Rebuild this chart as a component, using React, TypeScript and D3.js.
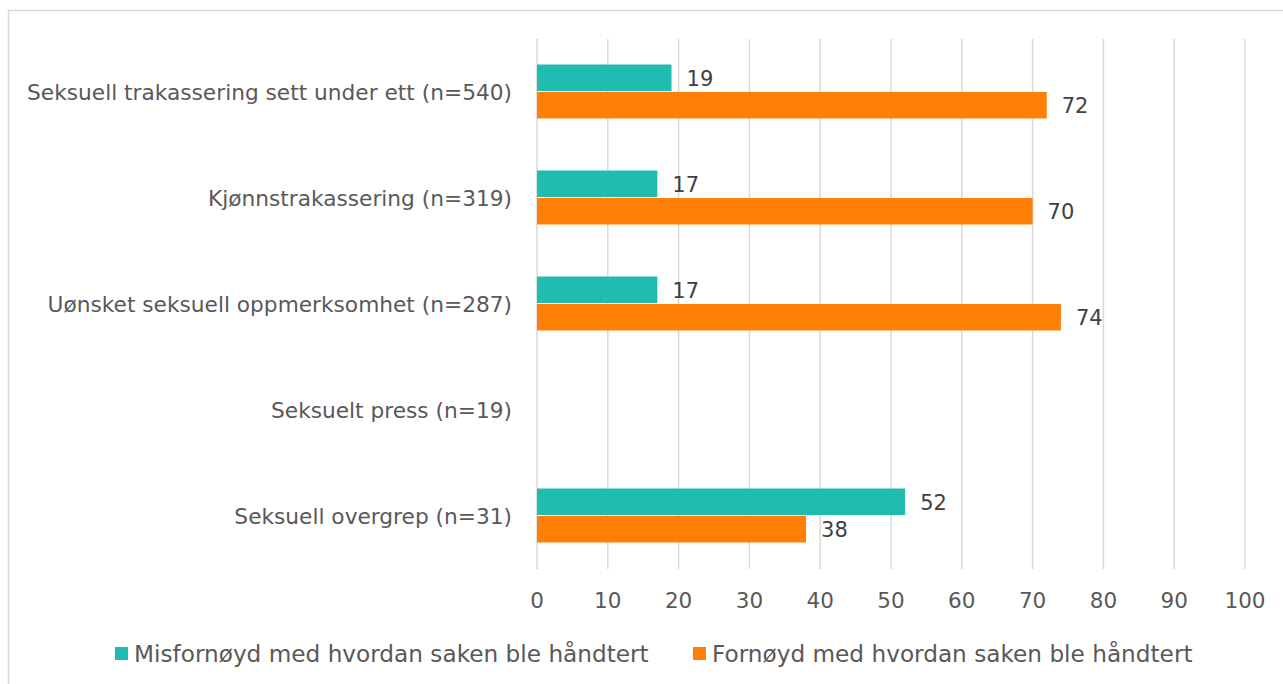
import React from "react";
import * as d3 from "d3";

const categories = [
  "Seksuell trakassering sett under ett (n=540)",
  "Kjønnstrakassering (n=319)",
  "Uønsket seksuell oppmerksomhet (n=287)",
  "Seksuelt press (n=19)",
  "Seksuell overgrep (n=31)",
];
const misfornoyd = [19, 17, 17, null, 52];
const fornoyd = [72, 70, 74, null, 38];
const seriesNames = [
  "Misfornøyd med hvordan saken ble håndtert",
  "Fornøyd med hvordan saken ble håndtert",
];
const seriesColors = ["#20BCAF", "#FF7F07"];
const xTicks = [0, 10, 20, 30, 40, 50, 60, 70, 80, 90, 100];

const W = 1283;
const H = 684;
const FONT = "'Century Gothic', 'DejaVu Sans', sans-serif";

const App = () => {
  const x = d3.scaleLinear().domain([0, 100]).range([537, 1245]);
  const y = d3.scaleBand().domain(categories).range([39, 569]);
  const inner = d3
    .scaleBand()
    .domain(["0", "1"])
    .range([y.bandwidth() / 2 - 27.5, y.bandwidth() / 2 + 27.5]);
  const series = [misfornoyd, fornoyd];

  return (
    <svg
      width={W}
      height={H}
      style={{ position: "absolute", left: 0, top: 0 }}
      fontFamily={FONT}
    >
      <rect x={0} y={0} width={W} height={H} fill="#fff" />
      <rect x={8.5} y={10.5} width={W + 10} height={H + 10} fill="none" stroke="#d9d9d9" strokeWidth={1.5} />

      {/* gridlines */}
      {xTicks.map((t) => (
        <line key={t} x1={x(t)} x2={x(t)} y1={39} y2={569} stroke="#d9d9d9" strokeWidth={1.5} />
      ))}

      {/* bars */}
      {categories.map((c, i) => (
        <g key={c} transform={`translate(0,${y(c)})`}>
          {series.map((vals, s) => {
            const v = vals[i];
            if (v == null) return null;
            const by = inner(String(s))!;
            return (
              <g key={s}>
                <rect x={x(0)} y={by} width={x(v) - x(0)} height={inner.bandwidth() - 1} fill={seriesColors[s]} />
                <text
                  x={x(v) + 15}
                  y={by + inner.bandwidth() / 2}
                  dy="0.35em"
                  fontSize={21}
                  fill="#404040"
                >
                  {v}
                </text>
              </g>
            );
          })}
          <text
            x={512}
            y={y.bandwidth() / 2}
            dy="0.35em"
            textAnchor="end"
            fontSize={21.7}
            fill="#595959"
          >
            {c}
          </text>
        </g>
      ))}

      {/* x tick labels */}
      {xTicks.map((t) => (
        <text key={t} x={x(t)} y={600} dy="0.35em" textAnchor="middle" fontSize={21.5} fill="#595959">
          {t}
        </text>
      ))}

      {/* legend */}
      {[115, 693].map((lx, s) => (
        <g key={s} transform={`translate(${lx},647)`}>
          <rect x={0} y={0} width={13} height={13} fill={seriesColors[s]} />
          <text x={19} y={6.5} dy="0.35em" fontSize={23.2} fill="#595959">
            {seriesNames[s]}
          </text>
        </g>
      ))}
    </svg>
  );
};

export default App;
